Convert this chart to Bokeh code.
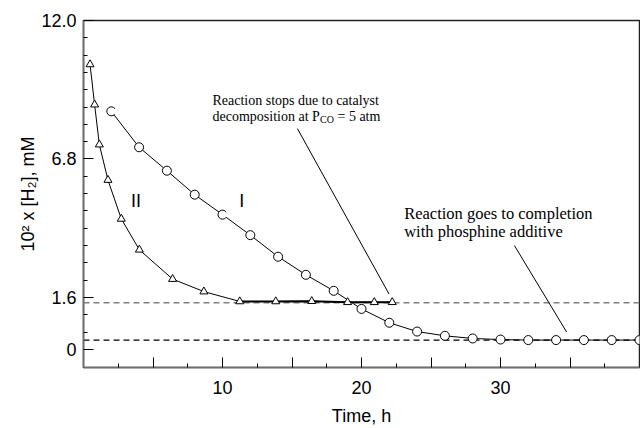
from bokeh.plotting import figure
from bokeh.models import FixedTicker, CustomJSTickFormatter, Label, Span, Range1d
from bokeh.embed import file_html
from bokeh.resources import INLINE

# ---- data ----
# Series I (circles): with phosphine additive
t_I = [2, 4, 6, 8, 10, 12, 14, 16, 18, 20, 22, 24, 26, 28, 30, 32, 34, 36, 38, 40]
h_I = [8.59, 7.24, 6.36, 5.46, 4.71, 3.94, 3.13, 2.45, 1.85, 1.17, 0.65, 0.32,
       0.16, 0.06, 0.02, 0.0, 0.0, 0.0, 0.0, 0.0]
partial_idx = [0, 4]  # markers drawn as open "C" shapes in the reference

# Series II (triangles): catalyst decomposition at P_CO = 5 atm
t_II = [0.47, 0.80, 1.14, 1.76, 2.72, 4.02, 6.41, 8.66, 11.24, 13.83, 16.42, 19.0, 20.92, 22.21]
h_II = [10.35, 8.84, 7.34, 6.01, 4.55, 3.39, 2.29, 1.82, 1.45, 1.45, 1.46, 1.42, 1.42, 1.42]
tail_start = 8

# reference levels (dashed)
level_stop = 1.40
level_complete = 0.0

# axis ticks
x_major = [5, 10, 15, 20, 25, 30, 35]
x_labels = ["", "10", "", "20", "", "30", ""]
x_minor = [2.5, 7.5, 12.5, 17.5, 22.5, 27.5, 32.5, 37.5]
y_major = [-0.35, 1.6, 6.8, 12.0]
y_labels = ["0", "1.6", "6.8", "12.0"]
y_minor = [11.35, 10.7, 10.05, 9.4, 8.75, 8.1, 7.45, 6.15, 5.5, 4.85, 4.2, 3.55,
           2.9, 2.25, 0.95, 0.3]

# callout lines (x0, y0) -> (x1, y1)
call_x0 = [15.39, 31.0]
call_y0 = [7.94, 3.55]
call_x1 = [21.98, 34.76]
call_y1 = [1.73, 0.30]

SANS = "Liberation Sans"
SERIF = "Liberation Serif"

p = figure(width=640, height=428, output_backend="svg", toolbar_location=None,
           x_range=Range1d(0, 40), y_range=Range1d(-1.03, 12.0),
           min_border_left=83, min_border_right=1, min_border_top=20,
           min_border_bottom=61, background_fill_color="white",
           border_fill_color="white")
p.xgrid.visible = False
p.ygrid.visible = False
p.outline_line_color = "#222222"
p.outline_line_width = 1.5

fmt_code = """
const i = tv.findIndex(v => Math.abs(v - tick) < 1e-6);
return i >= 0 ? lv[i] : "";
"""
xa = p.xaxis[0]
ya = p.yaxis[0]
xa.ticker = FixedTicker(ticks=x_major, minor_ticks=x_minor)
xa.formatter = CustomJSTickFormatter(args=dict(tv=x_major, lv=x_labels), code=fmt_code)
ya.ticker = FixedTicker(ticks=y_major, minor_ticks=y_minor)
ya.formatter = CustomJSTickFormatter(args=dict(tv=y_major, lv=y_labels), code=fmt_code)

for ax in (xa, ya):
    ax.axis_line_color = "#6e6e6e"
    ax.axis_line_width = 1.5
    ax.major_tick_in = 10
    ax.major_tick_out = 0
    ax.minor_tick_in = 4
    ax.minor_tick_out = 0
    ax.major_tick_line_color = "black"
    ax.minor_tick_line_color = "black"
    ax.major_label_text_font = SANS
    ax.major_label_text_font_size = "18px"
    ax.major_label_text_color = "black"
    ax.axis_label_text_font = SANS
    ax.axis_label_text_font_style = "normal"
    ax.axis_label_text_color = "black"

xa.axis_label = "Time, h"
xa.axis_label_text_font_size = "18px"
xa.major_label_standoff = 13
xa.axis_label_standoff = 9
ya.axis_label = "10² x [H₂], mM"
ya.axis_label_text_font_size = "18px"
ya.major_label_standoff = 7
ya.axis_label_standoff = 0

# dashed reference levels (behind markers)
p.add_layout(Span(location=level_stop, dimension="width", line_color="#808080",
                  line_dash="6 4", line_width=1.5, level="underlay"))
p.add_layout(Span(location=level_complete, dimension="width", line_color="black",
                  line_dash="6 4", line_width=1.2, level="underlay"))

# series lines
p.line(t_I, h_I, line_color="black", line_width=1)
p.line(t_II, h_II, line_color="black", line_width=1)
p.line(t_II[tail_start:], h_II[tail_start:], line_color="black", line_width=2)

# callouts
p.segment(x0=call_x0, y0=call_y0, x1=call_x1, y1=call_y1, line_color="black", line_width=1)

# markers
full_t = [t for i, t in enumerate(t_I) if i not in partial_idx]
full_h = [h for i, h in enumerate(h_I) if i not in partial_idx]
part_t = [t_I[i] for i in partial_idx]
part_h = [h_I[i] for i in partial_idx]
p.scatter(full_t, full_h, marker="circle", size=9, fill_color="white",
          line_color="black", line_width=1)
p.scatter(part_t, part_h, marker="circle", size=9, fill_color="white",
          line_color=None)
p.arc(part_t, part_h, radius=4.5, radius_units="screen", start_angle=0.6,
      end_angle=5.5, direction="anticlock", line_color="black", line_width=1)
p.scatter(t_II, h_II, marker="triangle", size=8, fill_color="white",
          line_color="black", line_width=1)

# series labels
p.add_layout(Label(x=3.77, y=5.23, text="II", text_font=SANS, text_font_size="18px",
                   text_align="center", text_baseline="middle", text_color="black"))
p.add_layout(Label(x=11.39, y=5.23, text="I", text_font=SANS, text_font_size="18px",
                   text_align="center", text_baseline="middle", text_color="black"))

# annotations
a1x, a1y1, a1y2 = 9.28, 8.99, 8.39
p.add_layout(Label(x=a1x, y=a1y1, text="Reaction stops due to catalyst", text_font=SERIF,
                   text_font_size="14px", text_baseline="alphabetic", text_color="black"))
p.add_layout(Label(x=a1x, y=a1y2, text="decomposition at P", text_font=SERIF,
                   text_font_size="14px", text_baseline="alphabetic", text_color="black"))
p.add_layout(Label(x=a1x, y=a1y2, x_offset=107.5, y_offset=-3, text="CO", text_font=SERIF,
                   text_font_size="10px", text_baseline="alphabetic", text_color="black"))
p.add_layout(Label(x=a1x, y=a1y2, x_offset=125, text="= 5 atm", text_font=SERIF,
                   text_font_size="14px", text_baseline="alphabetic", text_color="black"))

a2x, a2y1, a2y2 = 23.07, 4.74, 4.07
p.add_layout(Label(x=a2x, y=a2y1, text="Reaction goes to completion", text_font=SERIF,
                   text_font_size="16.5px", text_baseline="alphabetic", text_color="black"))
p.add_layout(Label(x=a2x, y=a2y2, text="with phosphine additive", text_font=SERIF,
                   text_font_size="16.5px", text_baseline="alphabetic", text_color="black"))

open("out.html", "w").write(file_html(p, INLINE))
